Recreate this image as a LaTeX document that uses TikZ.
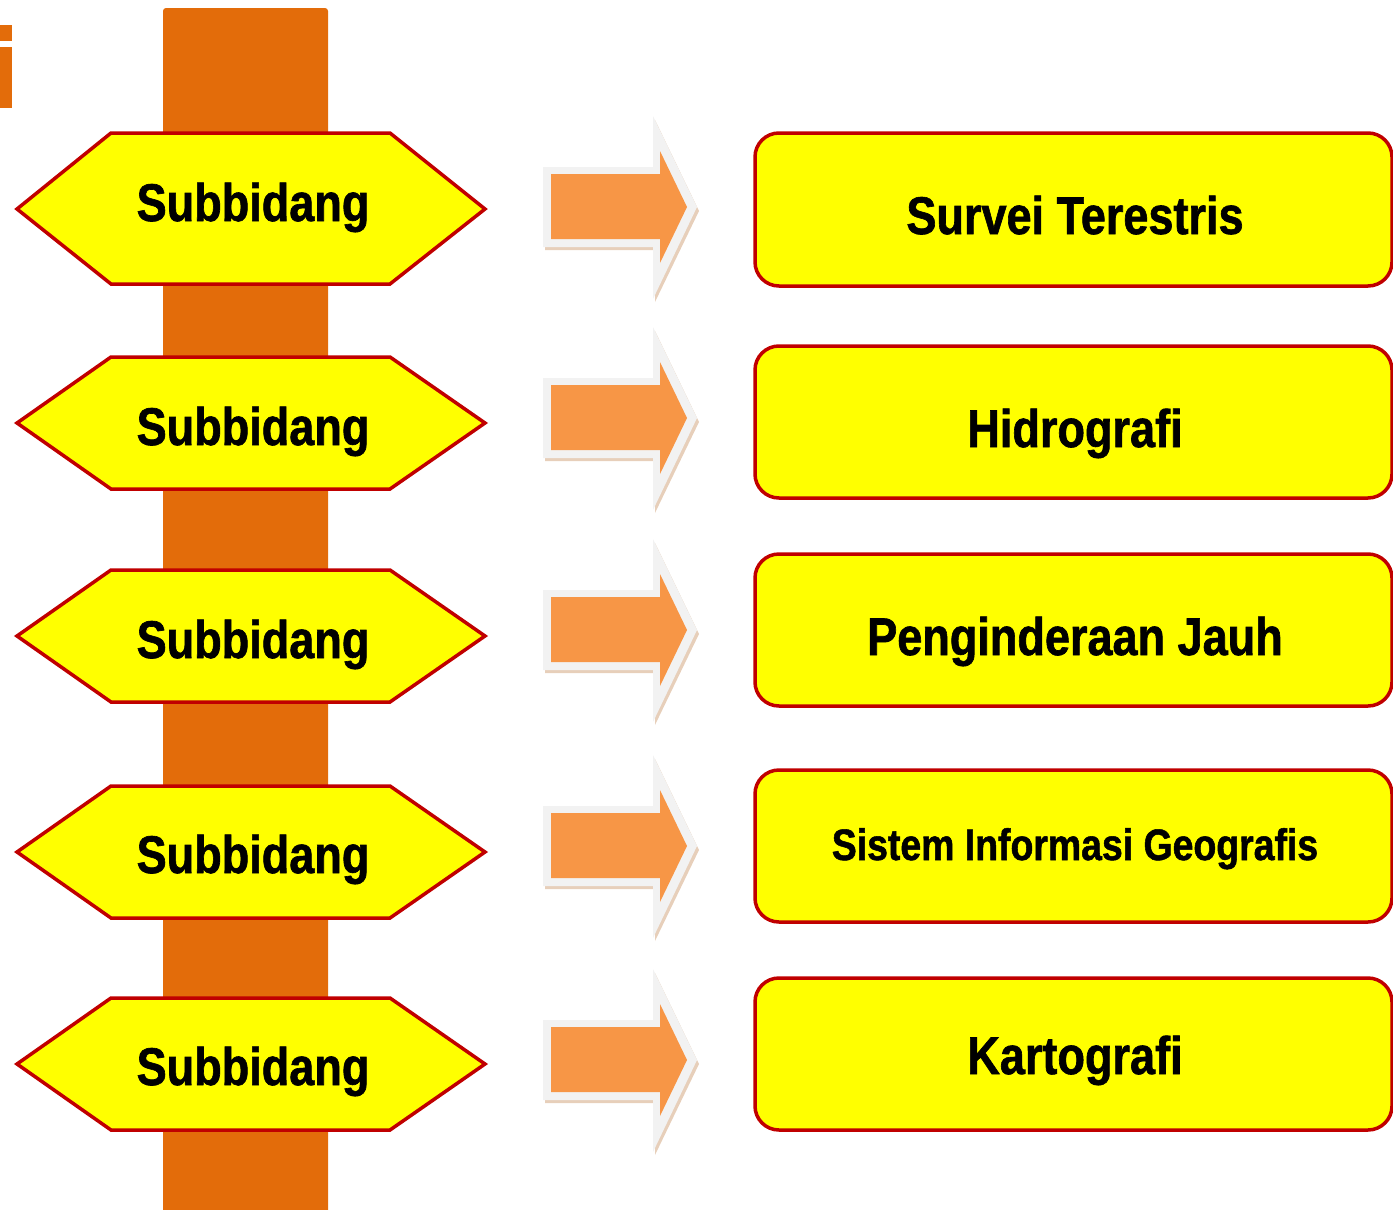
\documentclass[tikz,border=0pt]{standalone}
\usepackage{fontspec}
\newfontfamily\condfont[FakeStretch=0.85, BoldFeatures={FakeBold=1.2}]{Liberation Sans}
\definecolor{barorange}{RGB}{227,108,10}
\definecolor{hexred}{RGB}{192,0,0}
\definecolor{pureyellow}{RGB}{255,255,0}
\definecolor{arroworange}{RGB}{247,150,70}
\definecolor{arrowrim}{RGB}{242,242,242}
\definecolor{arrowshadow}{RGB}{215,175,140}
\tikzset{
  hexshape/.style={fill=pureyellow, draw=hexred, line width=3.5pt, line join=miter},
  boxshape/.style={fill=pureyellow, draw=hexred, line width=3.5pt, rounded corners=24pt},
  hexlabel/.style={anchor=base, inner sep=0pt, font=\condfont\bfseries\fontsize{53}{60}\selectfont},
  boxlabel/.style={anchor=base, inner sep=0pt, font=\condfont\bfseries\fontsize{53}{60}\selectfont},
  smalllabel/.style={anchor=base, inner sep=0pt, font=\condfont\bfseries\fontsize{44}{50}\selectfont},
}
\begin{document}
\begin{tikzpicture}[x=1pt,y=-1pt]
\useasboundingbox (0,0) rectangle (1393,1210);
% fragment of title letter
\fill[barorange] (0,25) rectangle (12,41);
\fill[barorange] (0,47) rectangle (12,108);
% vertical bar
\fill[barorange, rounded corners=3pt] (163,1215) -- (163,8) -- (328,8) -- (328,1215) -- cycle;
% hexagons
\path[hexshape] (17,209) -- (111,133) -- (390,133) -- (485,209) -- (390,284) -- (111,284) -- cycle;
\foreach \cy in {423,636,852,1064}{
  \path[hexshape] (17,\cy) -- (111,\cy-66) -- (390,\cy-66) -- (485,\cy) -- (390,\cy+66) -- (111,\cy+66) -- cycle;
}
\node[hexlabel] (h1) at (253,221) {Subbidang};
\node[hexlabel] (h2) at (253,445) {Subbidang};
\node[hexlabel] (h3) at (253,658) {Subbidang};
\node[hexlabel] (h4) at (253,873) {Subbidang};
\node[hexlabel] (h5) at (253,1085) {Subbidang};
% arrows
\foreach \cy in {207,418,630,846,1060}{
  \fill[arrowshadow, opacity=0.6] (545,\cy-36) -- (655,\cy-36) -- (655,\cy-87) -- (699,\cy+4) -- (655,\cy+95) -- (655,\cy+43) -- (545,\cy+43) -- cycle;
  \fill[arrowrim] (543,\cy-40) -- (653,\cy-40) -- (653,\cy-91) -- (697,\cy) -- (653,\cy+92) -- (653,\cy+40) -- (543,\cy+40) -- cycle;
  \fill[arroworange] (551,\cy-33) -- (660,\cy-33) -- (660,\cy-56) -- (687,\cy) -- (660,\cy+56) -- (660,\cy+32) -- (551,\cy+32) -- cycle;
}
% rounded boxes
\path[boxshape] (755,133) rectangle (1392,286);
\path[boxshape] (755,346) rectangle (1392,498);
\path[boxshape] (755,554) rectangle (1392,706);
\path[boxshape] (755,770) rectangle (1392,922);
\path[boxshape] (755,978) rectangle (1392,1130);
\node[boxlabel] (b1) at (1075,234) {Survei Terestris};
\node[boxlabel] (b2) at (1075,447) {Hidrografi};
\node[boxlabel] (b3) at (1075,655) {Penginderaan Jauh};
\node[smalllabel] (b4) at (1075,860) {Sistem Informasi Geografis};
\node[boxlabel] (b5) at (1075,1074) {Kartografi};
\end{tikzpicture}
\end{document}
